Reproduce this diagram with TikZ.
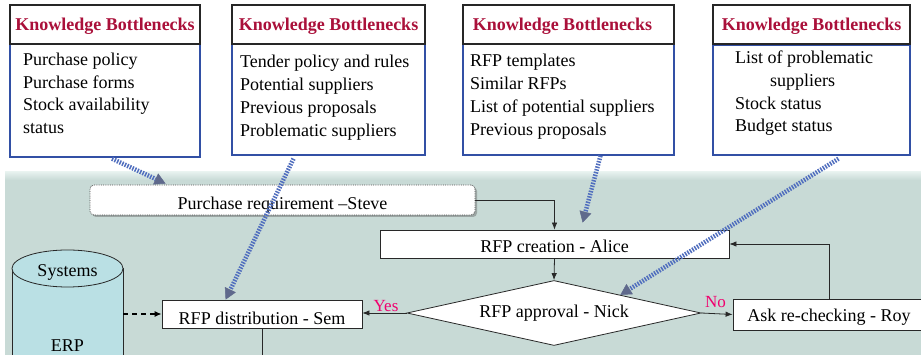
\documentclass[tikz,border=0pt]{standalone}
\usepackage{fontspec}
\setmainfont{Liberation Serif}
\usetikzlibrary{arrows.meta,shapes.geometric,calc,shadows}
\definecolor{kbred}{RGB}{170,16,58}
\definecolor{kbblue}{RGB}{50,80,165}
\definecolor{bggreen}{RGB}{200,218,214}
\definecolor{bgtop}{RGB}{230,241,238}
\definecolor{cyl}{RGB}{186,224,228}
\definecolor{hint}{RGB}{80,110,190}
\definecolor{hinthead}{RGB}{95,105,140}
\definecolor{lblpink}{RGB}{240,0,110}
\definecolor{flowline}{RGB}{40,40,40}
\begin{document}
\begin{tikzpicture}[x=1pt,y=-1pt,font=\fontsize{18}{22}\selectfont,
  kbtitle/.style={draw=black!85,line width=1.3pt,fill=white,inner sep=0,text=kbred,
    font=\fontsize{18}{22}\selectfont\bfseries,text height=15pt,text depth=2pt},
  kbbody/.style={draw=kbblue,line width=1.4pt,fill=white,inner sep=0},
  kbline/.style={anchor=base west,inner sep=0},
  task/.style={draw=flowline,line width=0.8pt,fill=white,inner sep=0},
  flow/.style={draw=flowline,line width=0.8pt,-{Latex[length=7pt,width=5.5pt]}},
  flowplain/.style={draw=flowline,line width=0.8pt},
  dasharrow/.style={draw=black,line width=1.3pt,dash pattern=on 5pt off 4pt,-{Latex[length=7pt,width=6pt]}},
  hintarrow/.style={draw=hint,line width=4.5pt,dash pattern=on 1.5pt off 1.3pt,
    -{Triangle[length=11pt,width=12pt,line width=0.5pt,fill=hinthead,color=hinthead]}},
  lbltext/.style={text=lblpink,inner sep=0,anchor=base,font=\fontsize{17}{20}\selectfont}]
\useasboundingbox (0,0) rectangle (921,355);
\clip (0,0) rectangle (921,355);
\fill[white] (0,0) rectangle (921,355);
% background
\fill[bggreen] (5,172) rectangle (925,360);
\shade[top color=bgtop,bottom color=bggreen] (5,172) rectangle (925,180);

% knowledge boxes
\node[kbbody,minimum width=190pt,minimum height=115pt] (kbb1) at (105,99.5) {};
\node[kbtitle,minimum width=190pt,minimum height=39pt] (kbt1) at (105,24.5) {Knowledge Bottlenecks};
\node[kbbody,minimum width=193pt,minimum height=112pt] (kbb2) at (328.5,99) {};
\node[kbtitle,minimum width=193pt,minimum height=39pt] (kbt2) at (328.5,24.5) {Knowledge Bottlenecks};
\node[kbbody,minimum width=211pt,minimum height=113pt] (kbb3) at (568.5,98.5) {};
\node[kbtitle,minimum width=211pt,minimum height=39pt] (kbt3) at (568.5,24.5) {\hspace*{-12pt}Knowledge Bottlenecks};
\node[kbbody,minimum width=197pt,minimum height=110pt] (kbb4) at (811.5,100) {};
\node[kbtitle,minimum width=197pt,minimum height=39pt] (kbt4) at (811.5,24.5) {Knowledge Bottlenecks};

\foreach \t [count=\i] in {Purchase policy,Purchase forms,Stock availability,status}
  \node[kbline] (kba\i) at (23,{66+22.4*(\i-1)}) {\t};
\foreach \t [count=\i] in {Tender policy and rules,Potential suppliers,Previous proposals,Problematic suppliers}
  \node[kbline] (kbc\i) at (240,{68+22.9*(\i-1)}) {\t};
\foreach \t [count=\i] in {RFP templates,Similar RFPs,List of potential suppliers,Previous proposals}
  \node[kbline] (kbd\i) at (470,{67+22.7*(\i-1)}) {\t};
\node[kbline] (kbe1) at (735,64) {List of problematic};
\node[kbline] (kbe2) at (770,86.5) {suppliers};
\node[kbline] (kbe3) at (735,110) {Stock status};
\node[kbline] (kbe4) at (735,132) {Budget status};

% systems cylinder
\fill[cyl] (12,268.5) rectangle (123,360);
\draw[flowplain] (12,268.5) -- (12,360) (123,268.5) -- (123,360);
\node[draw=flowline,line width=0.8pt,fill=cyl,ellipse,minimum width=111pt,minimum height=37pt,
  inner sep=0,text height=18pt,text depth=1pt] (sys) at (67.5,268.5) {Systems};
\node[inner sep=0,anchor=base] (erp) at (67.5,351.5) {ERP};
\coordinate (cylR) at (123,314);

% flow nodes
\node[task,draw=black!70,densely dotted,rounded corners=4pt,
  drop shadow={shadow xshift=2pt,shadow yshift=-2pt,opacity=0.45,fill=black!60},
  minimum width=385pt,minimum height=30pt,text height=22pt,text depth=2pt] (pr) at (282.5,200) {Purchase requirement –Steve};
\node[task,minimum width=349pt,minimum height=28pt,text height=20pt,text depth=2pt] (cre) at (554.5,244) {RFP creation - Alice};
\node[task,diamond,aspect=4.52,minimum width=294pt,minimum height=65pt,text height=12pt,text depth=2pt] (dia) at (554,313) {RFP approval - Nick};
\node[task,minimum width=200pt,minimum height=28pt,text height=22pt,text depth=2pt] (dist) at (262,314) {RFP distribution - Sem};
\node[task,minimum width=192pt,minimum height=31pt,text height=19pt,text depth=4pt] (ask) at (829,314.5) {Ask re-checking - Roy};
\coordinate (distEnd) at (262,360);

% connectors
\draw[flow] (pr.east) -| (cre.north);
\draw[flow] (cre.south) -- (dia.north);
\draw[flow] (dia.west) -- (dia.west -| dist.east);
\draw[flow] (dia.east) -- (ask.west);
\draw[flow] (ask.north) |- (cre.east);
\draw[flowplain] (dist.south) -- (distEnd);
\draw[dasharrow] (cylR) -- (cylR -| dist.west);
\node[lbltext] (yes) at (386,312) {Yes};
\node[lbltext] (no) at (715.5,308) {No};

% knowledge hint arrows
\draw[hintarrow] ($(kbb1.south)+(7,1)$) -- ($(pr.north west)+(76,-1)$);
\draw[hintarrow] ($(kbb2.south)+(-35,3)$) -- ($(dist.north west)+(64,0)$);
\draw[hintarrow] ($(kbb3.south)+(32,0)$) -- ($(cre.north west)+(203,-7)$);
\draw[hintarrow] ($(kbb4.south)+(27,3)$) -- ($(dia.north)!0.45!(dia.east)$);
\end{tikzpicture}
\end{document}
